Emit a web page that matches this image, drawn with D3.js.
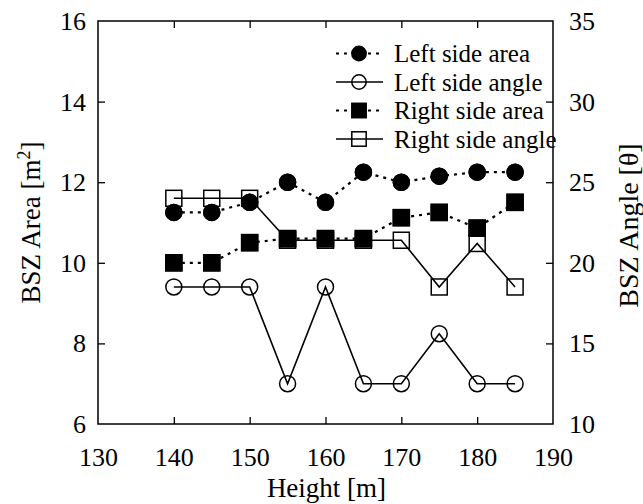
<!DOCTYPE html>
<html><head><meta charset="utf-8">
<script src="https://cdn.jsdelivr.net/npm/d3@7"></script>
<style>body{margin:0;background:#fff}svg{display:block}</style>
</head><body><svg id="c" width="643" height="504"></svg>
<script>
const heights = [140,145,150,155,160,165,170,175,180,185];
const leftArea = [11.25,11.25,11.5,12.0,11.5,12.25,12.0,12.15,12.25,12.25];
const rightArea = [10.0,10.0,10.5,10.6,10.6,10.6,11.12,11.25,10.86,11.5];
const leftAngle = [18.5,18.5,18.5,12.5,18.5,12.5,12.5,15.6,12.5,12.5];
const rightAngle = [24,24,24,21.4,21.4,21.4,21.4,18.5,21.2,18.5];
const xTicks = [130,140,150,160,170,180,190];
const yLeftTicks = [6,8,10,12,14,16];
const yRightTicks = [10,15,20,25,30,35];
const legendLabels = ["Left side area","Left side angle","Right side area","Right side angle"];

const FONT = '"Liberation Serif"';
const svg = d3.select("#c");
const L=98,R=553,T=21,B=424;
const x = d3.scaleLinear().domain([130,190]).range([L,R]);
const yL = d3.scaleLinear().domain([6,16]).range([B,T]);
const yR = d3.scaleLinear().domain([10,35]).range([B,T]);

svg.append("rect").attr("x",L).attr("y",T).attr("width",R-L).attr("height",B-T)
  .attr("fill","none").attr("stroke","#000").attr("stroke-width",1.5);

const tickLen=7;
const gx = svg.append("g").attr("transform",`translate(0,${B})`)
  .call(d3.axisBottom(x).tickValues(xTicks).tickSizeInner(-tickLen).tickSizeOuter(0).tickPadding(13).tickFormat(d3.format("d")));
const gxt = svg.append("g").attr("transform",`translate(0,${T})`)
  .call(d3.axisTop(x).tickValues(xTicks).tickSizeInner(-tickLen).tickSizeOuter(0).tickFormat(""));
const gl = svg.append("g").attr("transform",`translate(${L},0)`)
  .call(d3.axisLeft(yL).tickValues(yLeftTicks).tickSizeInner(-tickLen).tickSizeOuter(0).tickPadding(12).tickFormat(d3.format("d")));
const gr = svg.append("g").attr("transform",`translate(${R},0)`)
  .call(d3.axisRight(yR).tickValues(yRightTicks).tickSizeInner(-tickLen).tickSizeOuter(0).tickPadding(16).tickFormat(d3.format("d")));
[gx,gxt,gl,gr].forEach(g=>{
  g.attr("font-family",null).attr("font-size",null);
  g.select(".domain").remove();
  g.selectAll(".tick line").attr("stroke","#000").attr("stroke-width",1.3);
  g.selectAll(".tick text").style("font-family",FONT).style("font-size","26px").attr("fill","#000");
});
gx.selectAll(".tick text").attr("y",42).attr("dy",null);
gl.selectAll(".tick text").attr("dy","0.33em");
gr.selectAll(".tick text").attr("dy","0.33em");
gx.selectAll(".tick").filter(d=>d===130||d===190).select("line").remove();
gxt.selectAll(".tick").filter(d=>d===130||d===190).select("line").remove();
gl.selectAll(".tick").filter(d=>d===6||d===16).select("line").remove();
gr.selectAll(".tick").filter(d=>d===10||d===35).select("line").remove();

svg.append("text").attr("x",(L+R)/2+1).attr("y",497).attr("text-anchor","middle").style("font-family",FONT).style("font-size","27px").text("Height [m]");
const lt = svg.append("text").attr("transform",`translate(40,${(T+B)/2}) rotate(-90)`).attr("text-anchor","middle").style("font-family",FONT).style("font-size","27px");
lt.append("tspan").text("BSZ Area [m");
lt.append("tspan").attr("dy",-10).style("font-size","18px").text("2");
lt.append("tspan").attr("dy",10).text("]");
svg.append("text").attr("transform",`translate(638,${(T+B)/2 + 3}) rotate(-90)`).attr("text-anchor","middle").style("font-family",FONT).style("font-size","28px").text("BSZ Angle [\u03b8]");

const series = [
  {vals:rightAngle, y:yR, dash:null, marker:"square", fill:"#fff"},
  {vals:leftAngle, y:yR, dash:null, marker:"circle", fill:"#fff"},
  {vals:leftArea, y:yL, dash:"3,5", marker:"circle", fill:"#000"},
  {vals:rightArea, y:yL, dash:"3,5", marker:"square", fill:"#000"}
];
const plot = svg.append("g");
function drawMarker(g, type, cx, cy, fill, sz){
  sz = sz || 1;
  if(type==="circle") g.append("circle").attr("cx",cx).attr("cy",cy).attr("r",8*sz).attr("fill",fill).attr("stroke","#000").attr("stroke-width",1.5);
  else g.append("rect").attr("x",cx-8*sz).attr("y",cy-8*sz).attr("width",16*sz).attr("height",16*sz).attr("fill",fill).attr("stroke","#000").attr("stroke-width",1.5);
}
series.forEach(s=>{
  const data = heights.map((h,i)=>[h,s.vals[i]]);
  const line = d3.line().x(d=>x(d[0])).y(d=>s.y(d[1]));
  const g = plot.append("g");
  data.forEach(d=>drawMarker(g,s.marker,x(d[0]),s.y(d[1]),s.fill));
  g.append("path").attr("d",line(data)).attr("fill","none").attr("stroke","#000")
    .attr("stroke-width",s.dash?2.2:1.6).attr("stroke-dasharray",s.dash);
  if(s.dash) data.forEach(d=>drawMarker(g,s.marker,x(d[0]),s.y(d[1]),s.fill));
});

const legendStyle = [
  {dash:"3,5", marker:"circle", fill:"#000"},
  {dash:null, marker:"circle", fill:"#fff"},
  {dash:"3,5", marker:"square", fill:"#000"},
  {dash:null, marker:"square", fill:"#fff"}
];
const lg = svg.append("g");
legendLabels.forEach((lab,i)=>{
  const yy = 53.5 + i*28.5;
  const st = legendStyle[i];
  if(!st.dash) drawMarker(lg, st.marker, 359, yy, st.fill, 0.9);
  lg.append("line").attr("x1",336).attr("x2",383).attr("y1",yy).attr("y2",yy).attr("stroke","#000")
    .attr("stroke-width",st.dash?2.2:1.6).attr("stroke-dasharray",st.dash);
  if(st.dash) drawMarker(lg, st.marker, 359, yy, st.fill, 0.9);
  lg.append("text").attr("x",394).attr("y",yy+8.5).style("font-family",FONT).style("font-size","25px").text(lab);
});
</script></body></html>
